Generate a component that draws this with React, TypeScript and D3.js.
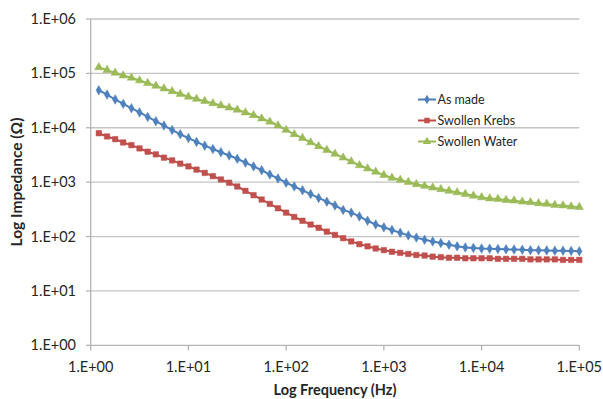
import React from 'react'
import * as d3 from 'd3'

// frequency points (Hz), 12 per decade
const freqs = [
  1.21, 1.47, 1.78, 2.15, 2.61, 3.16, 3.83, 4.64, 5.62, 6.81, 8.25, 10,
  12.1, 14.7, 17.8, 21.5, 26.1, 31.6, 38.3, 46.4, 56.2, 68.1, 82.5, 100,
  121, 147, 178, 215, 261, 316, 383, 464, 562, 681, 825, 1000,
  1210, 1470, 1780, 2150, 2610, 3160, 3830, 4640, 5620, 6810, 8250, 10000,
  12100, 14700, 17800, 21500, 26100, 31600, 38300, 46400, 56200, 68100, 82500, 100000
]

const asMade = [
  49000, 40700, 33100, 27500, 22900, 19100, 15800, 13200, 11000, 9120, 7590, 6460,
  5500, 4680, 4070, 3550, 3090, 2690, 2290, 1950, 1660, 1380, 1170, 977,
  832, 708, 603, 513, 437, 372, 309, 275, 234, 195, 166, 148,
  132, 117, 105, 95.5, 87.1, 81.3, 75.9, 70.8, 66.1, 63.1, 61.7, 60.3,
  59.6, 58.9, 58.2, 57.5, 56.9, 56.2, 56.2, 55.6, 55.0, 55.0, 54.3, 53.7
]

const swollenKrebs = [
  7940, 6920, 6170, 5370, 4790, 4170, 3630, 3240, 2820, 2510, 2190, 1950,
  1700, 1480, 1290, 1120, 977, 832, 692, 575, 479, 398, 331, 275,
  229, 195, 166, 145, 123, 107, 93.3, 81.3, 72.4, 66.1, 60.3, 56.2,
  52.5, 50.1, 47.9, 45.7, 44.7, 42.7, 41.7, 40.7, 40.7, 39.8, 39.8, 39.8,
  39.8, 38.9, 38.9, 38.9, 38.9, 38.0, 38.0, 38.0, 38.0, 37.2, 37.2, 37.2
]

const swollenWater = [
  129000, 115000, 102300, 91200, 83200, 74100, 66100, 58900, 52500, 46800, 41700, 37200,
  33900, 30900, 28200, 25700, 23400, 21400, 19100, 17000, 14800, 12900, 11000, 9120,
  7590, 6460, 5370, 4570, 3890, 3310, 2820, 2400, 2040, 1780, 1550, 1350,
  1200, 1100, 1000, 912, 851, 794, 741, 692, 646, 603, 562, 525,
  501, 490, 468, 457, 437, 427, 407, 398, 380, 372, 355, 347
]

const xTicks = [1, 10, 100, 1000, 10000, 100000]
const xTickLabels = ['1.E+00', '1.E+01', '1.E+02', '1.E+03', '1.E+04', '1.E+05']
const yTicks = [1, 10, 100, 1000, 10000, 100000, 1000000]
const yTickLabels = ['1.E+00', '1.E+01', '1.E+02', '1.E+03', '1.E+04', '1.E+05', '1.E+06']

const series = [
  { name: 'As made', values: asMade, line: '#4A7EBB', fill: '#4F81BD', symbol: d3.symbolDiamond, size: 26 },
  { name: 'Swollen Krebs', values: swollenKrebs, line: '#BE4B48', fill: '#C0504D', symbol: d3.symbolSquare, size: 30 },
  { name: 'Swollen Water', values: swollenWater, line: '#98B954', fill: '#9BBB59', symbol: d3.symbolTriangle, size: 30 }
]

const W = 603
const H = 399
const FONT = 'Lato, "Open Sans", sans-serif'

const App = () => {
  const x = d3.scaleLog().domain([1, 100000]).range([90.7, 579.3])
  const y = d3.scaleLog().domain([1, 1000000]).range([345.3, 19])

  return (
    <svg width={W} height={H} style={{ position: 'absolute', left: 0, top: 0, background: '#fff' }}
      fontFamily={FONT}>
      {/* gridlines */}
      {yTicks.slice(1).map(t => (
        <line key={t} x1={90.7} x2={579.3} y1={y(t)} y2={y(t)} stroke="#c4c4c4" strokeWidth={1.3} />
      ))}
      {/* axes */}
      <line x1={90.7} x2={90.7} y1={19} y2={345.3} stroke="#b4b4b4" strokeWidth={1.3} />
      <line x1={90.7} x2={579.3} y1={345.3} y2={345.3} stroke="#b4b4b4" strokeWidth={1.3} />
      {yTicks.map((t, i) => (
        <g key={t}>
          <line x1={86} x2={90.7} y1={y(t)} y2={y(t)} stroke="#b4b4b4" strokeWidth={1.3} />
          <text x={76} y={y(t)} dy="0.35em" textAnchor="end" fontSize={14.5} fill="#262626">{yTickLabels[i]}</text>
        </g>
      ))}
      {xTicks.map((t, i) => (
        <g key={t}>
          <line x1={x(t)} x2={x(t)} y1={345.3} y2={350.5} stroke="#b4b4b4" strokeWidth={1.3} />
          <text x={x(t)} y={367} dy="0.35em" textAnchor="middle" fontSize={14.5} fill="#262626">{xTickLabels[i]}</text>
        </g>
      ))}

      {/* series */}
      {series.map(s => {
        const pts: [number, number][] = freqs.map((f, i) => [x(f), y(s.values[i])])
        const path = d3.line()(pts) || ''
        const sym = d3.symbol().type(s.symbol).size(s.size)() || ''
        return (
          <g key={s.name}>
            <path d={path} fill="none" stroke={s.line} strokeWidth={2} />
            {pts.map((p, i) => (
              <path key={i} d={sym} transform={`translate(${p[0]},${p[1]})`} fill={s.fill} stroke={s.line} strokeWidth={0.5} />
            ))}
          </g>
        )
      })}

      {/* legend */}
      {series.map((s, i) => {
        const ly = 99.5 + i * 21
        const sym = d3.symbol().type(s.symbol).size(s.size)() || ''
        return (
          <g key={s.name}>
            <line x1={418} x2={436} y1={ly} y2={ly} stroke={s.line} strokeWidth={2} />
            <path d={sym} transform={`translate(427,${ly})`} fill={s.fill} />
            <text x={437.5} y={ly} dy="0.35em" fontSize={12.5} fill="#262626">{s.name}</text>
          </g>
        )
      })}

      {/* axis titles */}
      <text x={335} y={390} dy="0.35em" textAnchor="middle" fontSize={14.5} fontWeight="bold" fill="#262626">
        Log Frequency (Hz)
      </text>
      <text transform="translate(17,182) rotate(-90)" dy="0.35em" textAnchor="middle" fontSize={15.5} fontWeight="bold" fill="#262626">
        Log Impedance (Ω)
      </text>
    </svg>
  )
}

export default App
